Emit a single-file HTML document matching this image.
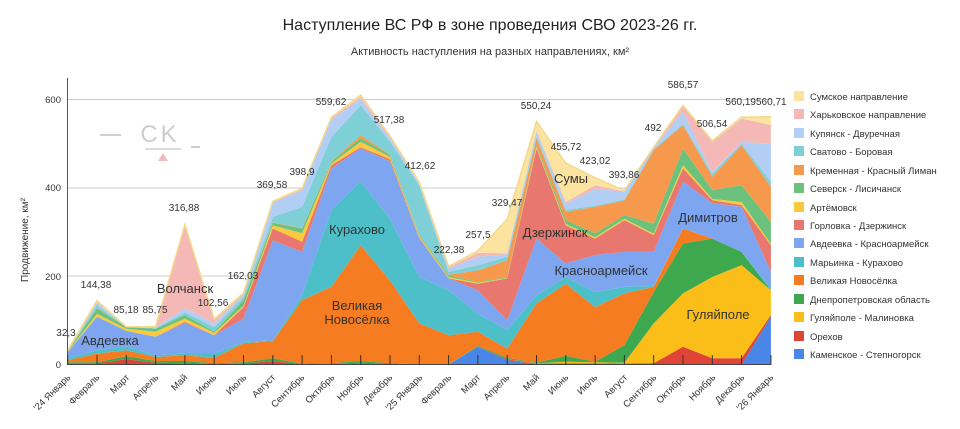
<!DOCTYPE html>
<html><head><meta charset="utf-8"><style>
body{margin:0;background:#fff;}
svg{display:block;font-family:"Liberation Sans",Arial,sans-serif;}
</style></head><body>
<svg id="c" width="960" height="429" viewBox="0 0 960 429" xmlns="http://www.w3.org/2000/svg">
<rect width="960" height="429" fill="#fff"/>
<text x="490" y="30" text-anchor="middle" font-size="16" fill="#222">Наступление ВС РФ в зоне проведения СВО 2023-26 гг.</text>
<text x="490" y="55" text-anchor="middle" font-size="11" fill="#333">Активность наступления на разных направлениях, км²</text>
<g stroke="#ccc" stroke-width="1">
<line x1="67" y1="99.5" x2="771" y2="99.5"/>
<line x1="67" y1="188" x2="771" y2="188"/>
<line x1="67" y1="276" x2="771" y2="276"/>
</g>
<g font-size="9.5" fill="#333" text-anchor="end">
<text x="61" y="103">600</text><text x="61" y="191">400</text><text x="61" y="280">200</text><text x="61" y="368">0</text>
</g>
<text transform="translate(28,240) rotate(-90)" text-anchor="middle" font-size="10" fill="#333">Продвижение, км²</text>
<g id="areas"></g>
<line x1="67.5" y1="78" x2="67.5" y2="365" stroke="#555" stroke-width="1"/>
<line x1="67" y1="364.5" x2="771" y2="364.5" stroke="#444" stroke-width="1"/>
<g id="ticks" stroke="#333" stroke-width="1"></g>
<g opacity="0.9">
<line x1="100" y1="135" x2="121" y2="135" stroke="#ccc" stroke-width="2"/>
<text x="160" y="142" text-anchor="middle" font-size="24" fill="#c8c8c8" letter-spacing="3">CK</text>
<line x1="145" y1="149" x2="181" y2="149" stroke="#ccc" stroke-width="1.5"/>
<line x1="191" y1="147" x2="200" y2="147" stroke="#ccc" stroke-width="2"/>
<polygon points="158,161 163,153 168,161" fill="#f1b3b6"/>
</g>
<g font-size="10" fill="#333" text-anchor="middle">
<text x="66" y="336">32,3</text><text x="96" y="288">144,38</text><text x="126" y="313">85,18</text>
<text x="155" y="313">85,75</text><text x="184" y="211">316,88</text><text x="213" y="306">102,56</text>
<text x="243" y="279">162,03</text><text x="272" y="188">369,58</text><text x="302" y="175">398,9</text>
<text x="331" y="105">559,62</text><text x="389" y="123">517,38</text><text x="420" y="169">412,62</text>
<text x="449" y="253">222,38</text><text x="478" y="238">257,5</text><text x="507" y="206">329,47</text>
<text x="536" y="109">550,24</text><text x="566" y="150">455,72</text><text x="595" y="164">423,02</text>
<text x="624" y="178">393,86</text><text x="653" y="131">492</text><text x="683" y="88">586,57</text>
<text x="712" y="127">506,54</text><text x="756" y="105">560,19560,71</text>
</g>
<g font-size="13" fill="#333" text-anchor="middle">
<text x="110" y="345">Авдеевка</text>
<text x="185" y="293">Волчанск</text>
<text x="357" y="234">Курахово</text>
<text x="357" y="310">Великая</text>
<text x="357" y="324">Новосёлка</text>
<text x="555" y="237">Дзержинск</text>
<text x="571" y="183">Сумы</text>
<text x="601" y="275">Красноармейск</text>
<text x="708" y="222">Димитров</text>
<text x="718" y="319">Гуляйполе</text>
</g>
<g font-size="9.5" fill="#333" text-anchor="end">
<text transform="translate(71,378) rotate(-45)">'24 Январь</text>
<text transform="translate(100,378) rotate(-45)">Февраль</text>
<text transform="translate(130,378) rotate(-45)">Март</text>
<text transform="translate(159,378) rotate(-45)">Апрель</text>
<text transform="translate(188,378) rotate(-45)">Май</text>
<text transform="translate(217,378) rotate(-45)">Июнь</text>
<text transform="translate(247,378) rotate(-45)">Июль</text>
<text transform="translate(276,378) rotate(-45)">Август</text>
<text transform="translate(305,378) rotate(-45)">Сентябрь</text>
<text transform="translate(335,378) rotate(-45)">Октябрь</text>
<text transform="translate(364,378) rotate(-45)">Ноябрь</text>
<text transform="translate(393,378) rotate(-45)">Декабрь</text>
<text transform="translate(423,378) rotate(-45)">'25 Январь</text>
<text transform="translate(452,378) rotate(-45)">Февраль</text>
<text transform="translate(481,378) rotate(-45)">Март</text>
<text transform="translate(510,378) rotate(-45)">Апрель</text>
<text transform="translate(540,378) rotate(-45)">Май</text>
<text transform="translate(569,378) rotate(-45)">Июнь</text>
<text transform="translate(598,378) rotate(-45)">Июль</text>
<text transform="translate(628,378) rotate(-45)">Август</text>
<text transform="translate(657,378) rotate(-45)">Сентябрь</text>
<text transform="translate(686,378) rotate(-45)">Октябрь</text>
<text transform="translate(716,378) rotate(-45)">Ноябрь</text>
<text transform="translate(745,378) rotate(-45)">Декабрь</text>
<text transform="translate(774,378) rotate(-45)">'26 Январь</text>
</g>
<g font-size="9.5" fill="#333">
<rect x="794" y="91" width="10" height="10" fill="#fde3a0"/><text x="810" y="100">Сумское направление</text>
<rect x="794" y="109" width="10" height="10" fill="#f4b8b6"/><text x="810" y="118">Харьковское направление</text>
<rect x="794" y="128" width="10" height="10" fill="#b3cef5"/><text x="810" y="137">Купянск - Двуречная</text>
<rect x="794" y="146" width="10" height="10" fill="#7fd0d6"/><text x="810" y="155">Сватово - Боровая</text>
<rect x="794" y="165" width="10" height="10" fill="#f6994d"/><text x="810" y="174">Кременная - Красный Лиман</text>
<rect x="794" y="183" width="10" height="10" fill="#6cc27d"/><text x="810" y="192">Северск - Лисичанск</text>
<rect x="794" y="202" width="10" height="10" fill="#fbc93d"/><text x="810" y="211">Артёмовск</text>
<rect x="794" y="220" width="10" height="10" fill="#e8776f"/><text x="810" y="229">Горловка - Дзержинск</text>
<rect x="794" y="238" width="10" height="10" fill="#7ea6f0"/><text x="810" y="247">Авдеевка - Красноармейск</text>
<rect x="794" y="257" width="10" height="10" fill="#4cbfc8"/><text x="810" y="266">Марьинка - Курахово</text>
<rect x="794" y="275" width="10" height="10" fill="#f57c20"/><text x="810" y="284">Великая Новосёлка</text>
<rect x="794" y="294" width="10" height="10" fill="#3ea84f"/><text x="810" y="303">Днепропетровская область</text>
<rect x="794" y="312" width="10" height="10" fill="#fbbd18"/><text x="810" y="321">Гуляйполе - Малиновка</text>
<rect x="794" y="331" width="10" height="10" fill="#e04436"/><text x="810" y="340">Орехов</text>
<rect x="794" y="349" width="10" height="10" fill="#4a86e8"/><text x="810" y="358">Каменское - Степногорск</text>
</g>
</svg>
<script>
(function(){
var L=[
["#4a86e8",[0,0,0,0,0,0,0,0,0,0,0,0,0,0,40,10,0,0,0,0,0,0,0,0,108]],
["#e04436",[3,3,12,4,3,1,2,8,1,1,3,1,0,0,40,12,2,3,3,2,3,40,14,14,112]],
["#fbbd18",[3,3,12,4,3,1,2,8,1,1,3,1,0,0,40,12,3,6,5,4,93,161,198,225,168]],
["#3ea84f",[5,5,19,8,8,3,5,14,2,3,8,3,0,0,42,15,4,20,6,44,164,274,285,255,168]],
["#f57c20",[10,25,32,17,21,15,48,53,146,176,270,190,93,66,74,36,138,183,130,161,176,308,285,255,168]],
["#4cbfc8",[15,32,40,21,25,25,51,55,157,350,414,330,198,168,115,78,157,198,164,176,178,308,285,255,172]],
["#7ea6f0",[28,108,76,63,94,66,104,281,255,444,489,460,285,195,168,100,285,229,248,255,255,414,365,357,210]],
["#e8776f",[28,108,76,63,97,66,130,308,278,451,492,465,287,195,183,195,489,315,285,327,293,444,372,361,270]],
["#fbc93d",[29,115,81,74,104,72,133,315,297,455,504,470,290,198,185,196,493,318,288,330,296,451,375,368,273]],
["#6cc27d",[30,127,85,81,112,75,146,321,308,459,512,475,293,202,187,198,497,327,297,338,319,489,395,406,323]],
["#f6994d",[30,128,85,81,112,75,147,322,309,460,519,476,294,203,213,236,512,346,357,372,485,542,425,497,402]],
["#7fd0d6",[31,134,85,82,118,85,153,334,357,515,587,505,405,210,225,244,517,350,360,374,488,545,432,500,414]],
["#b3cef5",[31,140,85,84,127,93,158,366,395,555,602,512,410,218,244,250,527,364,398,391,490,572,435,504,500]],
["#f4b8b6",[32,142,85,85,317,100,160,368,397,558,606,515,411,220,253,252,530,368,406,392,491,586,504,557,542]],
["#fde3a0",[32.3,144.38,85.18,85.75,316.88,102.56,162.03,369.58,398.9,559.62,610,517.38,412.62,222.38,257.5,329.47,550.24,455.72,423.02,393.86,492,586.57,506.54,560.19,560.71]]
];
var X=function(i){return 67.7+i*29.3},Y=function(v){return 364.5-v*0.4417};
var g=document.getElementById('areas'),ns="http://www.w3.org/2000/svg";
var prev=[];for(var i=0;i<25;i++)prev.push(0);
L.forEach(function(l){
 var cur=l[1].map(function(v,i){return Math.max(v,prev[i]);});
 var pts=[];
 for(var i=0;i<25;i++)pts.push(X(i).toFixed(1)+","+Y(cur[i]).toFixed(1));
 for(var i=24;i>=0;i--)pts.push(X(i).toFixed(1)+","+Y(prev[i]).toFixed(1));
 var p=document.createElementNS(ns,"polygon");p.setAttribute("points",pts.join(" "));p.setAttribute("fill",l[0]);
 g.appendChild(p);prev=cur;
});
var topPts=[];for(var i=0;i<25;i++)topPts.push(X(i).toFixed(1)+","+Y(prev[i]).toFixed(1));
var pl=document.createElementNS(ns,"polyline");pl.setAttribute("points",topPts.join(" "));pl.setAttribute("fill","none");pl.setAttribute("stroke","#f5d98a");pl.setAttribute("stroke-width","1.5");g.appendChild(pl);
var t=document.getElementById('ticks');
for(var i=0;i<25;i++){var ln=document.createElementNS(ns,"line");ln.setAttribute("x1",X(i));ln.setAttribute("x2",X(i));ln.setAttribute("y1",355);ln.setAttribute("y2",365);t.appendChild(ln);}
})();
</script>
</body></html>
